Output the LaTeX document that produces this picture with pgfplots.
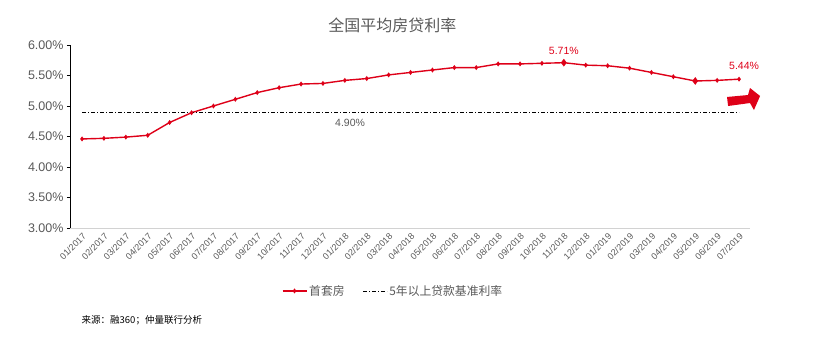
\documentclass[border=0pt]{standalone}
\usepackage{pgfplots}
\pgfplotsset{compat=1.18}
\usepackage{fontspec}
\setmainfont{Liberation Sans}
\newfontfamily\cjk{Noto Sans CJK SC}
\definecolor{myred}{RGB}{222,0,24}
\definecolor{txtgray}{RGB}{89,89,89}
\pgfplotsset{longline/.style={legend image code/.code={\draw[mark repeat=2,mark phase=2,##1] plot coordinates {(0pt,0pt) (12pt,0pt) (24pt,0pt)};}}}
\begin{document}
\begin{tikzpicture}
\useasboundingbox (-70pt,-125pt) rectangle (753pt,228pt);
\begin{axis}[
  scale only axis, width=680pt, height=183pt,
  at={(0,0)}, anchor=south west,
  xmin=-0.55, xmax=30.5, ymin=3, ymax=6,
  axis x line*=bottom, axis y line*=left,
  x axis line style={draw=gray!35, line width=0.8pt},
  y axis line style={draw=black, line width=0.8pt},
  xtick={0,...,30},
  xticklabels={01/2017,02/2017,03/2017,04/2017,05/2017,06/2017,07/2017,08/2017,09/2017,10/2017,11/2017,12/2017,01/2018,02/2018,03/2018,04/2018,05/2018,06/2018,07/2018,08/2018,09/2018,10/2018,11/2018,12/2018,01/2019,02/2019,03/2019,04/2019,05/2019,06/2019,07/2019},
  x tick label style={rotate=45, anchor=north east, font=\fontsize{9}{10}\selectfont, text=txtgray, inner sep=1pt},
  major x tick style={draw=none},
  ytick={3,3.5,...,6},
  yticklabel={\pgfmathprintnumber[fixed,fixed zerofill,precision=2]{\tick}\%},
  y tick label style={font=\fontsize{12.5}{14}\selectfont, text=txtgray},
  /pgf/number format/assume math mode=true,
  tick align=outside, major tick length=3pt,
  major y tick style={black},
  clip=false,
  legend style={at={(0.475,-0.344)}, anchor=center, draw=none, legend columns=2,
    font=\cjk\fontsize{11.8}{13}\selectfont, text=txtgray,
    /tikz/every even column/.append style={column sep=16pt}},
  legend cell align=left,
]
\addplot[myred, line width=1.4pt, mark=diamond*, mark size=1.4pt, mark options={fill=myred}, longline] coordinates {
(0,4.46)(1,4.47)(2,4.49)(3,4.52)(4,4.73)(5,4.89)(6,5.00)(7,5.11)(8,5.22)(9,5.30)
(10,5.36)(11,5.37)(12,5.42)(13,5.45)(14,5.51)(15,5.55)(16,5.59)(17,5.63)(18,5.63)(19,5.69)
(20,5.69)(21,5.70)(22,5.71)(23,5.67)(24,5.66)(25,5.62)(26,5.55)(27,5.48)(28,5.41)(29,5.42)(30,5.44)};
\addlegendentry{首套房}
\addplot[black, line width=0.8pt, dash pattern=on 4pt off 2pt on 1pt off 2pt, longline] coordinates {(0,4.90)(30,4.90)};
\addlegendentry{5年以上贷款基准利率}
\addplot[myred, only marks, mark=diamond*, mark size=3.5pt, forget plot] coordinates {(22,5.71)(28,5.41)};
\node[font=\fontsize{10.5}{12}\selectfont, text=myred, anchor=south] at (axis cs:22,5.71) [yshift=5pt] {5.71\%};
\node[font=\fontsize{10.5}{12}\selectfont, text=myred, anchor=south] at (axis cs:30,5.44) [xshift=5pt, yshift=6pt] {5.44\%};
\node[font=\fontsize{10.5}{12}\selectfont, text=txtgray] at (axis cs:12.24,4.72) {4.90\%};
\fill[myred] (axis cs:29.45,5.148) -- (axis cs:29.50,5.00) -- (axis cs:30.50,5.049) -- (axis cs:30.68,4.934) -- (axis cs:30.96,5.164) -- (axis cs:30.50,5.295) -- (axis cs:30.41,5.180) -- cycle;
\node[font=\cjk\fontsize{16}{18}\selectfont, text=txtgray] at (rel axis cs:0.474,1.11) {全国平均房贷利率};
\node[font=\cjk\fontsize{9.5}{11}\selectfont, text=black, anchor=west] at (rel axis cs:0.012,-0.503) {来源：融360；仲量联行分析};
\end{axis}
\end{tikzpicture}
\end{document}
